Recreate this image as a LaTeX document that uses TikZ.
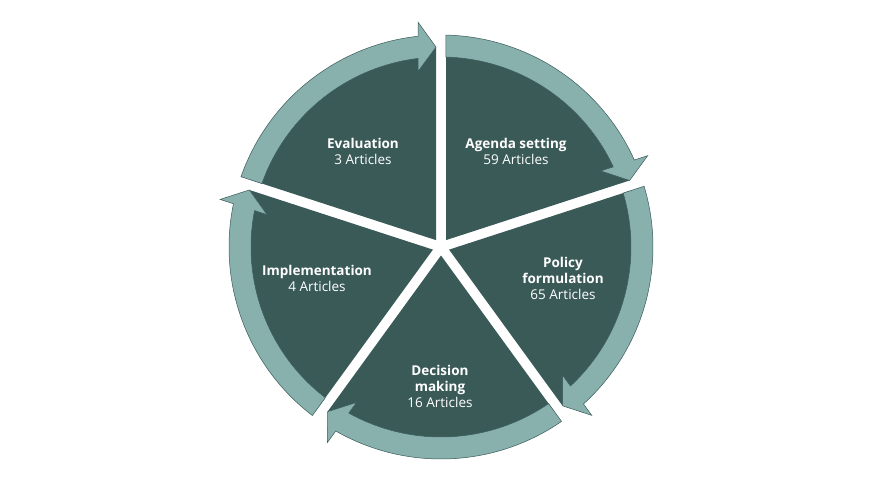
\documentclass[tikz,border=0pt]{standalone}
\usepackage{fontspec}
\setmainfont{Open Sans}
\definecolor{darkteal}{HTML}{3A5A58}
\definecolor{lightteal}{HTML}{88B1AE}
\begin{document}
\begin{tikzpicture}[x=1pt,y=1pt,
  sector/.style={fill=darkteal},
  arrowband/.style={fill=lightteal,draw=darkteal,line width=0.5pt,line join=miter},
  lbl/.style={text=white,align=center,inner sep=0pt,font=\fontsize{13.5}{16}\selectfont}]
\useasboundingbox[fill=white] (0,0) rectangle (880,495);
\begin{scope}[shift={(441,248)}]
\foreach \b in {90,18,-54,-126,-198}{
  \pgfmathsetmacro\a{\b-72}
  \pgfmathsetmacro\bisect{\b-36}
  \pgfmathsetmacro\apexr{5/sin(36)}
  \pgfmathsetmacro\sA{\b-asin(5/200)}
  \pgfmathsetmacro\sB{\a+asin(5/200)}
  \fill[sector] (\bisect:\apexr pt) -- (\sA:200pt) arc[start angle=\sA,end angle=\sB,radius=200pt] -- cycle;
  \pgfmathsetmacro\tI{\b-asin(5/190)}
  \pgfmathsetmacro\hI{\a+asin(23/190)}
  \pgfmathsetmacro\hIi{\a+asin(23/177)}
  \pgfmathsetmacro\tip{\a+asin(5/200)}
  \pgfmathsetmacro\hOo{\a+asin(23/226)}
  \pgfmathsetmacro\hO{\a+asin(23/212)}
  \pgfmathsetmacro\tO{\b-asin(5/212)}
  \filldraw[arrowband] (\tI:190pt) arc[start angle=\tI,end angle=\hI,radius=190pt]
    -- (\hIi:177pt) -- (\tip:200pt) -- (\hOo:226pt) -- (\hO:212pt)
    arc[start angle=\hO,end angle=\tO,radius=212pt] -- cycle;
}
\end{scope}
\node[lbl] (agenda) at (516,344) {\textbf{Agenda setting}\\59 Articles};
\node[lbl] (evaluation) at (363,344) {\textbf{Evaluation}\\3 Articles};
\node[lbl] (policy) at (563,217) {\textbf{Policy}\\\textbf{formulation}\\65 Articles};
\node[lbl] (decision) at (440,109) {\textbf{Decision}\\\textbf{making}\\16 Articles};
\node[lbl] (implementation) at (317,216.5) {\textbf{Implementation}\\4 Articles};
\end{tikzpicture}
\end{document}
